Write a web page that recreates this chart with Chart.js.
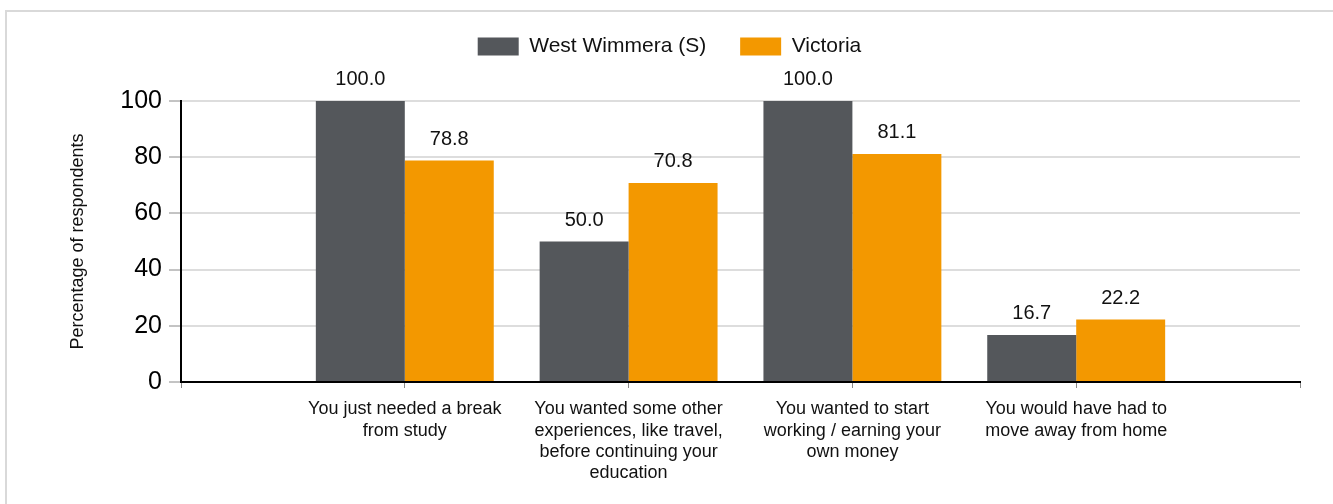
<!DOCTYPE html>
<html>
<head>
<meta charset="utf-8">
<script src="https://cdn.jsdelivr.net/npm/chart.js@4"></script>
<style>
    html, body { margin: 0; padding: 0; background: #fff; overflow: hidden; }
    #frame {
        position: absolute; left: 5px; top: 10px;
        width: 1400px; height: 600px;
        border-top: 2px solid #d9d9d9;
        border-left: 2px solid #d9d9d9;
    }
    #wrap { position: absolute; left: 0; top: 0; width: 1333px; height: 504px; }
</style>
</head>
<body>
<div id="frame"></div>
<div id="wrap"><canvas id="reasonsChart" width="1333" height="504"></canvas></div>
<script>
// Categories (reasons for deferring study)
const categories = [
    ['You just needed a break', 'from study'],
    ['You wanted some other', 'experiences, like travel,', 'before continuing your', 'education'],
    ['You wanted to start', 'working / earning your', 'own money'],
    ['You would have had to', 'move away from home']
];
const westWimmera = [100.0, 50.0, 100.0, 16.7];
const victoria = [78.8, 70.8, 81.1, 22.2];
const yTicks = [0, 20, 40, 60, 80, 100];

// empty slot on each side of the categories
const labels = [''].concat(categories, ['']);
const pad = arr => [null].concat(arr, [null]);

const FONT = "'Liberation Sans', Arial, sans-serif";

// Valeurs au-dessus des barres
const valueLabels = {
    id: 'valueLabels',
    afterDatasetsDraw(chart) {
        const ctx = chart.ctx;
        ctx.save();
        ctx.font = '20px ' + FONT;
        ctx.fillStyle = '#111';
        ctx.textAlign = 'center';
        ctx.textBaseline = 'alphabetic';
        chart.data.datasets.forEach((ds, i) => {
            chart.getDatasetMeta(i).data.forEach((bar, j) => {
                const v = ds.data[j];
                if (v === null || v === undefined) return;
                ctx.fillText(v.toFixed(1), bar.x, bar.y - 16);
            });
        });
        ctx.restore();
    }
};

// hauteur fixe pour la légende, centrée sur toute la largeur
const legendHeight = {
    id: 'legendHeight',
    beforeUpdate(chart) {
        const lg = chart.legend;
        if (!lg || lg._patched) return;
        const fit = lg.fit;
        lg.fit = function() {
            fit.call(this);
            this.height = 99;
            if (this.lineWidths && this.lineWidths.length) {
                this.lineWidths[0] -= 39;
            }
        };
        lg._patched = true;
    }
};

new Chart(document.getElementById('reasonsChart'), {
    type: 'bar',
    data: {
        labels: labels,
        datasets: [
            {
                label: 'West Wimmera (S)',
                data: pad(westWimmera),
                backgroundColor: '#54575b',
                categoryPercentage: 0.795,
                barPercentage: 1.0
            },
            {
                label: 'Victoria',
                data: pad(victoria),
                backgroundColor: '#f39800',
                categoryPercentage: 0.795,
                barPercentage: 1.0
            }
        ]
    },
    options: {
        responsive: false,
        animation: false,
        layout: { padding: { top: 2, left: 0, right: 33, bottom: 0 } },
        plugins: {
            legend: {
                position: 'top',
                labels: {
                    boxWidth: 41,
                    boxHeight: 18,
                    padding: 34,
                    color: '#111',
                    font: { family: FONT, size: 21 }
                }
            },
            tooltip: { enabled: false }
        },
        scales: {
            x: {
                offset: false,
                grid: {
                    offset: false,
                    drawOnChartArea: false,
                    drawTicks: true,
                    tickLength: 6,
                    tickColor: '#888',
                    lineWidth: 1
                },
                border: { display: true, color: '#000', width: 2 },
                ticks: {
                    autoSkip: false,
                    maxRotation: 0,
                    padding: 11,
                    color: '#111',
                    font: { family: FONT, size: 18, lineHeight: 1.17 }
                },
                afterFit(scale) { scale.height = 122; }
            },
            y: {
                min: 0,
                max: 100,
                afterBuildTicks(scale) { scale.ticks = yTicks.map(v => ({ value: v })); },
                grid: {
                    color: c => (c.tick && c.tick.value === 0) ? 'rgba(0,0,0,0)' : '#dddddd',
                    lineWidth: 2,
                    tickLength: 12,
                    tickColor: '#888',
                    tickWidth: 1
                },
                border: { display: true, color: '#000', width: 2 },
                ticks: {
                    padding: 7,
                    color: '#000',
                    font: { family: FONT, size: 25 }
                },
                title: {
                    display: true,
                    text: 'Percentage of respondents',
                    color: '#111',
                    font: { family: FONT, size: 18 },
                    padding: { top: 67, bottom: 0 }
                },
                afterFit(scale) { scale.width = 181; }
            }
        }
    },
    plugins: [valueLabels, legendHeight]
});
</script>
</body>
</html>
